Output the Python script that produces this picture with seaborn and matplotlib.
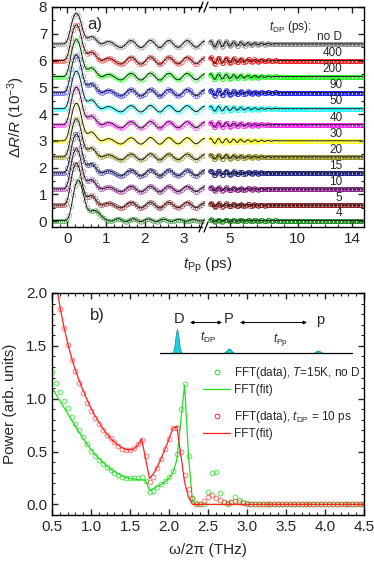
import numpy as np
import matplotlib
matplotlib.use("Agg")
import matplotlib.pyplot as plt
import seaborn as sns
from matplotlib.lines import Line2D
from matplotlib.ticker import MultipleLocator, FixedLocator, FormatStrFormatter

# ---------------- panel a) : dR/R traces ----------------
dp_labels = ["no D", "400", "200", "90", "50", "40", "30", "20", "15", "10", "5", "4"]
dp_colors = ["#808080", "#ff0000", "#00ff00", "#0000ff", "#00ffff", "#ff00ff",
             "#ffff00", "#808000", "#000080", "#800080", "#800000", "#008000"]
baselines = [6.62, 6.0, 5.4, 4.8, 4.2, 3.6, 3.0, 2.4, 1.8, 1.2, 0.6, 0.02]
peak_amp = [1.14, 1.33, 1.38, 1.4, 1.4, 1.4, 1.4, 1.42, 1.45, 1.5, 1.55, 1.5]
osc_amp = [1.0, 1.0, 0.95, 0.95, 0.9, 0.9, 0.9, 0.85, 0.85, 0.8, 0.8, 1.0]
right_amp = [1.0, 1.0, 0.9, 0.9, 0.8, 0.8, 0.8, 0.7, 0.7, 0.6, 0.6, 0.35]

# typical trace shape (relative to baseline), t = -0.40 ... 3.55 ps, step 0.05
shape_main = [0, 0, 0, 0, 0, 0, 0,
              0.03, 0.15, 0.4, 0.72, 0.98, 1.12, 1.13, 1.02, 0.78, 0.5,
              0.31, 0.22, 0.23, 0.27, 0.27, 0.22, 0.14, 0.06, 0.01, 0.0,
              0.03, 0.07, 0.09, 0.08, 0.05, 0.0, -0.06, -0.1, -0.13, -0.13,
              -0.09, -0.02, 0.06, 0.11, 0.13, 0.1, 0.03, -0.06, -0.12, -0.14,
              -0.11, -0.04, 0.05, 0.12, 0.14, 0.1, 0.02, -0.07, -0.13, -0.14,
              -0.09, 0.0, 0.08, 0.13, 0.12, 0.06, -0.03, -0.1, -0.13, -0.11,
              -0.04, 0.05, 0.11, 0.13, 0.09, 0.01, -0.07, -0.12, -0.12, -0.06,
              0.02, 0.08, 0.1]
# t_DP = 4 ps trace
shape_4ps = [0, 0, 0, 0, 0, 0, 0,
             0.0, 0.05, 0.2, 0.55, 0.95, 1.3, 1.48, 1.5, 1.35, 1.05,
             0.75, 0.5, 0.38, 0.35, 0.37, 0.38, 0.36, 0.3, 0.22, 0.14,
             0.08, 0.03, 0.0, -0.02, -0.02, 0.01, 0.05, 0.07, 0.06, 0.02,
             -0.02, -0.04, -0.03, 0.01, 0.05, 0.07, 0.05, 0.01, -0.03, -0.04,
             -0.02, 0.02, 0.05, 0.06, 0.04, 0.0, -0.03, -0.04, -0.02, 0.02,
             0.05, 0.05, 0.03, -0.01, -0.03, -0.03, -0.01, 0.02, 0.04, 0.04,
             0.02, -0.01, -0.03, -0.02, 0.0, 0.03, 0.04, 0.03, 0.0, -0.02,
             -0.02, 0.0, 0.02]
# long-delay part, t = 3.5 ... 8.5 ps, step 0.1 (flat afterwards)
wiggle_right = [0.08, 0.12, 0.04, -0.09, -0.12, -0.03, 0.09, 0.11, 0.0, -0.1,
                -0.09, 0.03, 0.1, 0.07, -0.05, -0.09, -0.04, 0.06, 0.08, 0.0,
                -0.07, -0.06, 0.03, 0.07, 0.03, -0.05, -0.06, 0.0, 0.05, 0.04,
                -0.03, -0.05, -0.01, 0.04, 0.03, -0.02, -0.04, -0.01, 0.03, 0.02,
                -0.02, -0.03, 0.0, 0.02, 0.01, -0.01, -0.02, 0.0, 0.01, 0.01, 0.0]

# ---------------- panel b) : FFT spectra ----------------
green_data = [1.25, 1.15, 1.06, 0.98, 0.91, 0.83, 0.76, 0.70, 0.64, 0.57,
              0.51, 0.46, 0.42, 0.38, 0.35, 0.325, 0.30, 0.275, 0.26, 0.25,
              0.25, 0.25, 0.25, 0.255, 0.22, 0.12, 0.13, 0.165, 0.195, 0.225,
              0.26, 0.32, 0.48, 0.90, 1.14, 0.46, 0.06, 0.01, 0.0, 0.0,
              0.12, 0.30, 0.31, 0.11, 0.02, 0.0, 0.02, 0.07, 0.045, 0.02, 0.01]  # from 0.50 THz
green_fit = [1.16, 1.11, 1.04, 0.98, 0.92, 0.86, 0.80, 0.74, 0.68, 0.625,
             0.57, 0.52, 0.475, 0.435, 0.40, 0.365, 0.335, 0.31, 0.29, 0.27,
             0.255, 0.245, 0.24, 0.235, 0.232, 0.228, 0.135, 0.15, 0.17, 0.19,
             0.215, 0.25, 0.30, 0.42, 0.78, 1.13, 0.46, 0.03, 0.0]  # from 0.45 THz
red_data = [1.85, 1.67, 1.51, 1.37, 1.26, 1.15, 1.05, 0.955, 0.88, 0.815,
            0.76, 0.705, 0.66, 0.625, 0.59, 0.55, 0.527, 0.514, 0.514, 0.536,
            0.57, 0.61, 0.457, 0.21, 0.257, 0.346, 0.43, 0.52, 0.616, 0.727,
            0.727, 0.495, 0.276, 0.15, 0.06, 0.0, 0.0, 0.03, 0.07, 0.09,
            0.06, 0.04, 0.02, 0.015, 0.02, 0.03, 0.02, 0.01, 0.0]  # from 0.60 THz
red_fit = [2.1, 1.88, 1.69, 1.53, 1.39, 1.27, 1.17, 1.075, 0.99, 0.91,
           0.84, 0.78, 0.72, 0.67, 0.625, 0.59, 0.56, 0.535, 0.52, 0.515,
           0.525, 0.56, 0.62, 0.43, 0.245, 0.29, 0.355, 0.435, 0.525, 0.62,
           0.72, 0.74, 0.48, 0.21, 0.07, 0.0]  # from 0.55 THz


def padded(values, start, stop, step):
    vals = np.asarray(values, dtype=float)
    n_pad = int(round((stop - start) / step)) + 1 - len(vals)
    vals = np.concatenate([vals, np.zeros(max(n_pad, 0))])
    return start + step * np.arange(len(vals)), vals


sns.set_style("ticks")
plt.rcParams['font.family'] = ['Liberation Sans', 'DejaVu Sans']
plt.rcParams['mathtext.fontset'] = 'custom'
plt.rcParams['mathtext.rm'] = 'Liberation Sans'
plt.rcParams['mathtext.it'] = 'Liberation Sans:italic'
plt.rcParams['axes.linewidth'] = 1.0
plt.rcParams['axes.edgecolor'] = 'black'

W, H = 374, 561
fig = plt.figure(figsize=(W / 100, H / 100), dpi=100)


def px_axes(x0, y0, x1, y1, **kw):
    return fig.add_axes([x0 / W, 1 - y1 / H, (x1 - x0) / W, (y1 - y0) / H], **kw)


axL = px_axes(52, 7, 205, 227)
axR = px_axes(205, 7, 364, 227)
axB = px_axes(52, 293, 364, 515)

tL = -0.4 + 0.05 * np.arange(len(shape_main))
peak_w = np.clip((0.9 - tL) / 0.3, 0, 1)   # weight of the main peak region
tR, wig = padded(wiggle_right, 3.5, 14.8, 0.1)

for i, lab in enumerate(dp_labels):
    c = dp_colors[i]
    base = np.array(shape_4ps if lab == "4" else shape_main)
    k_peak = peak_amp[i] / base.max()
    scale = peak_w * k_peak + (1 - peak_w) * osc_amp[i]
    yL = baselines[i] + scale * base
    yR = baselines[i] + right_amp[i] * wig
    for ax, t, y, a in ((axL, tL, yL, 0.45), (axR, tR, yR, 0.7)):
        sns.lineplot(x=t, y=y, ax=ax, color=c, marker='o', ls='none', mfc='none',
                     mec=c, ms=3, mew=0.6, alpha=a, estimator=None, sort=False)
        sns.lineplot(x=t, y=y, ax=ax, color='#1a1a1a', lw=0.7,
                     estimator=None, sort=False)
    axR.text(13.3, baselines[i] + 0.27, lab, ha='right', va='center', fontsize=8.5)

axR.text(7.9, 7.25, "$t_{\\mathrm{DP}}$ (ps):", ha='left', va='center', fontsize=8.5)
axL.text(0.52, 7.33, "a)", fontsize=12, va='center')

for ax in (axL, axR):
    ax.set_ylim(-0.22, 8.0)
    ax.yaxis.set_major_locator(MultipleLocator(1))
    ax.yaxis.set_minor_locator(MultipleLocator(0.5))
    ax.set_xlabel("")
    ax.set_ylabel("")
axL.set_xlim(-0.4, 3.55)
axL.xaxis.set_major_locator(FixedLocator([0, 1, 2, 3]))
axL.xaxis.set_minor_locator(MultipleLocator(0.2))
axR.set_xlim(3.16, 14.89)
axR.xaxis.set_major_locator(FixedLocator([5, 10, 14]))
axR.xaxis.set_minor_locator(MultipleLocator(1))
axL.spines['right'].set_visible(False)
axR.spines['left'].set_visible(False)
axL.tick_params(which='both', direction='in', top=True, right=False, labelsize=11)
axR.tick_params(which='both', direction='in', top=True, right=True, left=False,
                labelleft=False, labelsize=11)
for ax in (axL, axR):
    ax.tick_params(which='major', length=4, width=1)
    ax.tick_params(which='minor', length=2.2, width=0.8)
axL.set_ylabel("\u0394$R$/$R$ (10$^{-3}$)", fontsize=11)
axL.yaxis.set_label_coords((27 - 52) / 153, 0.5)
fig.text(208 / W, 1 - 265 / H, "$t_{\\mathrm{Pp}}$ (ps)", ha='center', va='center',
         fontsize=11)

# axis break marks
for yb in (7, 227):
    fig.add_artist(plt.Rectangle(((202.5) / W, 1 - (yb + 1.5) / H), 5 / W, 3 / H,
                                 transform=fig.transFigure, color='white', zorder=5))
    for xb in (201, 206):
        fig.add_artist(Line2D([(xb - 2) / W, (xb + 2) / W],
                              [1 - (yb + 5) / H, 1 - (yb - 5) / H],
                              transform=fig.transFigure, color='black', lw=0.9, zorder=6))

# ---------------- panel b) ----------------
green = "#22dd22"
red = "#ff2222"
fg, yg = padded(green_data, 0.50, 4.5, 0.05)
fgf, ygf = padded(green_fit, 0.45, 4.5, 0.05)
fr, yr = padded(red_data, 0.60, 4.5, 0.05)
frf, yrf = padded(red_fit, 0.55, 4.5, 0.05)

sns.lineplot(x=fg, y=yg, ax=axB, color=green, marker='o', ls='none', mfc='none',
             mec=green, ms=3.4, mew=0.7, alpha=0.75, estimator=None, sort=False)
sns.lineplot(x=fgf, y=ygf, ax=axB, color=green, lw=0.9, estimator=None, sort=False)
sns.lineplot(x=fr, y=yr, ax=axB, color=red, marker='o', ls='none', mfc='none',
             mec=red, ms=3.4, mew=0.7, alpha=0.6, estimator=None, sort=False)
sns.lineplot(x=frf, y=yrf, ax=axB, color=red, lw=0.9, estimator=None, sort=False)

axB.set_xlim(0.5, 4.5)
axB.set_ylim(-0.1, 2.0)
axB.xaxis.set_major_locator(MultipleLocator(0.5))
axB.xaxis.set_minor_locator(MultipleLocator(0.1))
axB.yaxis.set_major_locator(MultipleLocator(0.5))
axB.yaxis.set_minor_locator(MultipleLocator(0.1))
axB.xaxis.set_major_formatter(FormatStrFormatter('%.1f'))
axB.yaxis.set_major_formatter(FormatStrFormatter('%.1f'))
axB.tick_params(which='both', direction='in', top=True, right=True, labelsize=11)
axB.tick_params(which='major', length=4, width=1)
axB.tick_params(which='minor', length=2.2, width=0.8)
axB.set_xlabel("\u03c9/2\u03c0 (THz)", fontsize=11)
axB.set_ylabel("Power (arb. units)", fontsize=11)
axB.xaxis.set_label_coords(0.5, -(543 - 515) / 222)
axB.yaxis.set_label_coords((17 - 52) / 312, 0.5)
axB.text(0.98, 1.79, "b)", fontsize=12, va='center')

h_gd = Line2D([], [], ls='none', marker='o', mfc='none', mec=green, ms=3.4, mew=0.7)
h_gf = Line2D([], [], color=green, lw=0.9)
h_rd = Line2D([], [], ls='none', marker='o', mfc='none', mec=red, ms=3.4, mew=0.7)
h_rf = Line2D([], [], color=red, lw=0.9)
leg_kw = dict(loc='upper left', bbox_transform=fig.transFigure, frameon=False,
              fontsize=8.5, handlelength=2.3, handletextpad=0.3, labelspacing=0.25,
              borderpad=0, borderaxespad=0)
leg1 = axB.legend([h_gd, h_gf], ["FFT(data), $T$=15K, no D", "FFT(fit)"],
                  bbox_to_anchor=(203 / W, 1 - 365 / H), **leg_kw)
axB.add_artist(leg1)
axB.legend([h_rd, h_rf], ["FFT(data), $t_{\\mathrm{DP}}$ = 10 ps", "FFT(fit)"],
           bbox_to_anchor=(203 / W, 1 - 409 / H), **leg_kw)

# inset: pulse sequence sketch (coordinates in figure pixels)
pulse = np.array([0, 0.05, 0.2, 0.5, 0.85, 1.0, 0.85, 0.5, 0.2, 0.05, 0])
ins = px_axes(158, 308, 354, 358)
ins.set_xlim(158, 354)
ins.set_ylim(358, 308)
ins.axis('off')
y0 = 353
for xc, h, wd in ((177, 24, 1.0), (229, 4.5, 1.3), (318, 2.5, 1.3)):
    xs = xc + wd * np.arange(-5, 6)
    ins.fill_between(xs, y0, y0 - h * pulse, color='#1ad0dc', ec='#108890', lw=0.5)
ins.plot([160, 352], [y0, y0], color='black', lw=0.9)
ins.text(179, 319, "D", ha='center', va='center', fontsize=10.5)
ins.text(229, 319, "P", ha='center', va='center', fontsize=10.5)
ins.text(320, 320, "p", ha='center', va='center', fontsize=10.5)
ins.text(208, 337, "$t_{\\mathrm{DP}}$", ha='center', va='center', fontsize=8.5)
ins.text(280, 339, "$t_{\\mathrm{Pp}}$", ha='center', va='center', fontsize=8.5)
for xa, xb in ((190, 222), (240, 307)):
    ins.annotate("", xy=(xa, 322.5), xytext=(xb, 322.5),
                 arrowprops=dict(arrowstyle='<|-|>', lw=0.7, color='black',
                                 mutation_scale=5, shrinkA=0, shrinkB=0))

fig.savefig("out.png", dpi=100)
